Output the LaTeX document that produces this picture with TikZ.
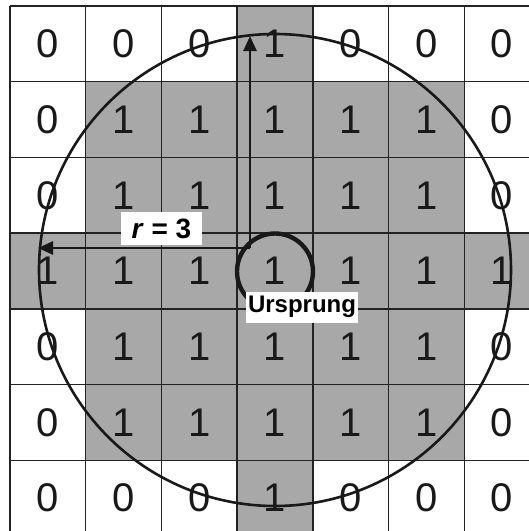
\documentclass[tikz,border=0pt]{standalone}
\usepackage{fontspec}
\setmainfont{Liberation Sans}
\usetikzlibrary{arrows.meta}
\definecolor{cellgray}{RGB}{168,168,168}
\definecolor{gridline}{RGB}{35,35,35}
\tikzset{
  digit/.style={font=\fontsize{40}{40}\selectfont, text=black!90, inner sep=0pt},
  radarrow/.style={-{Triangle[length=15pt,width=13pt]}, line width=2.6pt, black!90},
  labelbox/.style={fill=white, inner sep=0pt, font=\bfseries},
  gridstroke/.style={gridline, line width=1.4pt},
}
\begin{document}
\begin{tikzpicture}[x=1pt,y=-1pt]
\useasboundingbox (0,0) rectangle (529,531);
\clip (0,0) rectangle (529,531);
\fill[white] (0,0) rectangle (529,531);
\begin{scope}[shift={(10,6)}, x=75.7pt, y=-75.7pt]
  % gray cells
  \fill[cellgray] (3,0) rectangle (4,1);
  \fill[cellgray] (1,1) rectangle (6,3);
  \fill[cellgray] (0,3) rectangle (7,4);
  \fill[cellgray] (1,4) rectangle (6,6);
  \fill[cellgray] (3,6) rectangle (4,7);
  % grid
  \foreach \i in {0,...,7} {
    \draw[gridstroke] (\i,0) -- (\i,7);
    \draw[gridstroke] (0,\i) -- (7,\i);
  }
  % digits
  \foreach \r/\vals in {0/{0,0,0,1,0,0,0},1/{0,1,1,1,1,1,0},2/{0,1,1,1,1,1,0},3/{1,1,1,1,1,1,1},4/{0,1,1,1,1,1,0},5/{0,1,1,1,1,1,0},6/{0,0,0,1,0,0,0}}{
    \foreach \v [count=\c from 0] in \vals {
      \node[digit] (d-\r-\c) at (\c+0.5,\r+0.5) {\v};
    }
  }
\end{scope}
% big circle
\node[circle, draw=black!90, line width=2.6pt, minimum size=472pt, inner sep=0pt] (bigc) at (275,270) {};
% origin circle
\node[circle, draw=black!90, line width=4.4pt, minimum size=76pt, inner sep=0pt] (orig) at (275,271.5) {};
% arrows
\coordinate (o) at (250,248);
\coordinate (top) at (250,36);
\coordinate (left) at (38,248);
\draw[radarrow] (o) -- (top);
\draw[radarrow] (o) -- (left);
% labels
\node[labelbox, minimum width=81pt, minimum height=33pt, font=\bfseries\fontsize{28}{28}\selectfont] (rlabel) at (161.5,228.5) {\textit{r} = 3};
\node[labelbox, minimum width=112pt, minimum height=31pt, font=\bfseries\fontsize{24}{24}\selectfont] (ulabel) at (302,307) {Ursprung};
\end{tikzpicture}
\end{document}
